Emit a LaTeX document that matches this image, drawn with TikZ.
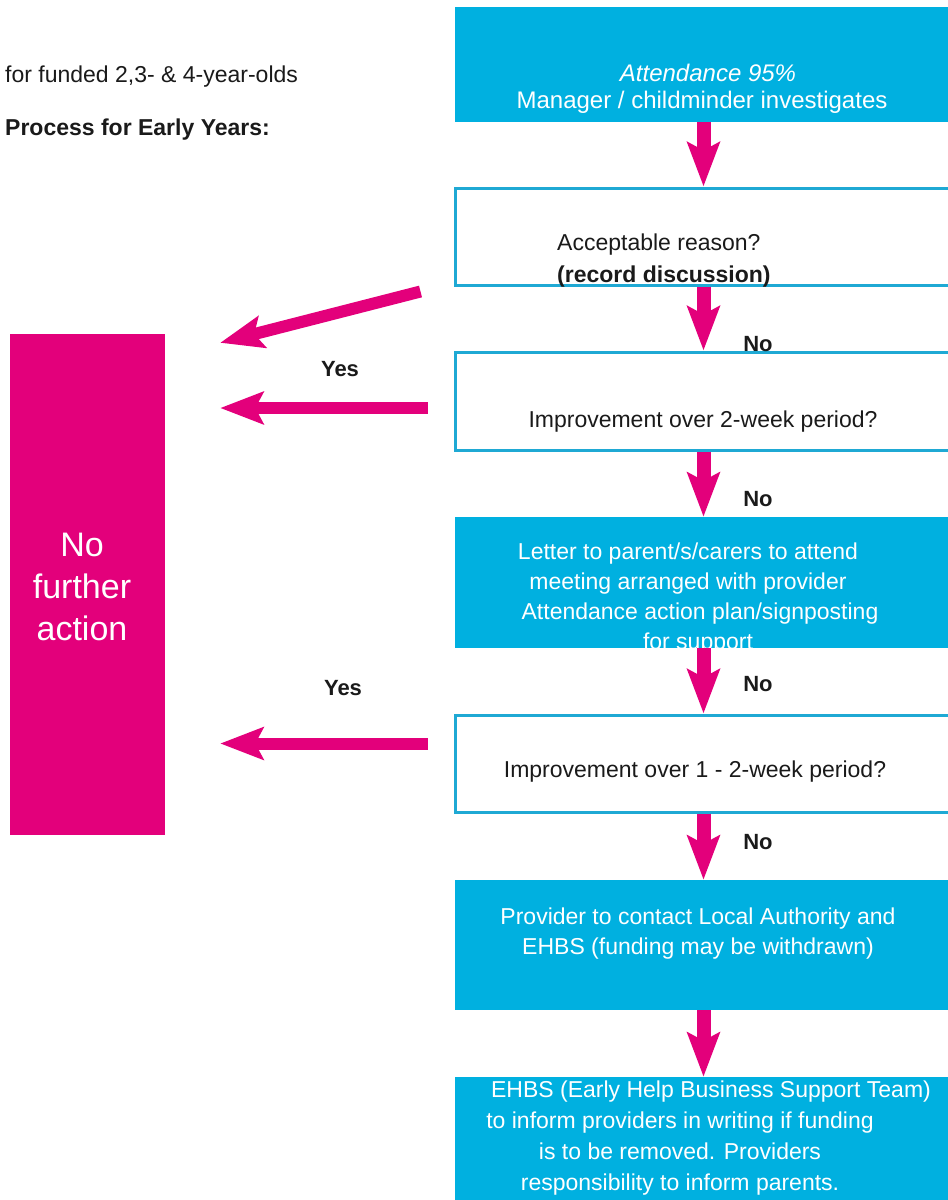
\documentclass[tikz,border=0pt]{standalone}
\usepackage{fontspec}
\setmainfont{Liberation Sans}
\usetikzlibrary{arrows.meta,calc}
\definecolor{eyblue}{HTML}{00B0E0}
\definecolor{eyedge}{HTML}{1FA9D4}
\definecolor{eypink}{HTML}{E3007B}
\definecolor{eyink}{HTML}{1A1A1A}

\begin{document}
\begin{tikzpicture}[x=1pt, y=-1pt,
  every node/.style={inner sep=0pt, font=\fontsize{23}{30}\selectfont},
  fillbox/.style={rectangle, fill=eyblue, minimum width=497pt},
  linebox/.style={rectangle, draw=eyedge, line width=3pt, fill=white, minimum width=497pt},
  nfabox/.style={rectangle, fill=eypink, minimum width=155pt, minimum height=501pt},
  lighttext/.style={text=white, align=center},
  darktext/.style={text=eyink, align=center},
  answer/.style={text=eyink, font=\fontsize{22}{26}\selectfont\bfseries},
  flow/.style={draw=eypink, line width=14pt, -{Stealth[length=44pt, width=32pt, inset=8pt]}},
  yesflow/.style={draw=eypink, line width=12pt, -{Stealth[length=43pt, width=32pt, inset=8pt]}}]

  \useasboundingbox[fill=white] (0,0) rectangle (948,1200);

  % heading
  \node[text=eyink, anchor=west] (funded) at (5, 77) {for funded 2,3- \& 4-year-olds};
  \node[text=eyink, anchor=west, font=\fontsize{23}{30}\selectfont\bfseries] (process) at (5, 130) {Process for Early Years:};

  % boxes
  \node[fillbox, minimum height=115pt] (start) at (703.5, 64.5) {};
  \node[linebox, minimum height=97pt] (reason) at (703.5, 236.5) {};
  \node[linebox, minimum height=98pt] (twoweek) at (703.5, 401) {};
  \node[fillbox, minimum height=131pt] (letter) at (703.5, 582.5) {};
  \node[linebox, minimum height=97pt] (oneweek) at (703.5, 763.5) {};
  \node[fillbox, minimum height=130pt] (contact) at (703.5, 945) {};
  \node[fillbox, minimum height=126pt] (inform) at (703.5, 1140) {};
  \node[nfabox] (nfa) at (87.5, 584.5) {};

  % texts
  \node[lighttext, font=\fontsize{34}{42}\selectfont] (nfatxt) at (82, 587) {No\\further\\action};
  \node[lighttext, font=\fontsize{24}{27}\selectfont] (starttxt) at (702, 88.5) {\hspace*{12pt}\textit{Attendance 95\%}\\Manager / childminder investigates};
  \node[darktext, align=left, anchor=west, font=\fontsize{23}{32}\selectfont] (reasontxt) at (557, 261) {Acceptable reason?\\\textbf{(record discussion)}};
  \node[darktext] (twoweektxt) at (703, 422) {Improvement over 2-week period?};
  \node[lighttext] (lettertxt) at (688, 599) {Letter to parent/s/carers to attend\\meeting arranged with provider\\\hspace*{24pt}Attendance action plan/signposting\\\hspace*{20pt}for support};
  \node[darktext] (oneweektxt) at (695, 772) {Improvement over 1 - 2-week period?};
  \node[lighttext] (contacttxt) at (698, 934) {Provider to contact Local Authority and\\EHBS (funding may be withdrawn)};
  \node[lighttext, font=\fontsize{23}{31}\selectfont] (informtxt) at (680, 1138) {\hspace*{62pt}EHBS (Early Help Business Support Team)\\to inform providers in writing if funding\\is to be removed. Providers\\responsibility to inform parents.};

  % down the chain
  \draw[flow] (start) -- (reason);
  \draw[flow] (reason) -- (twoweek);
  \draw[flow] (twoweek) -- (letter);
  \draw[flow] (letter) -- (oneweek);
  \draw[flow] (oneweek) -- (contact);
  \draw[flow] (contact) -- (inform);

  % back to no further action
  \draw[yesflow] ($(reason.south west)+(-33,5)$) -- ($(nfa.north east)+(55,9)$);
  \draw[yesflow] ($(twoweek.west)+(-26,7)$) -- ($(nfa.east |- twoweek.west)+(55,7)$);
  \draw[yesflow] ($(oneweek.west)+(-26,-20)$) -- ($(nfa.east |- oneweek.west)+(55,-20)$);

  % answers
  \node[answer] (no1) at (758, 344) {No};
  \node[answer] (no2) at (758, 499) {No};
  \node[answer] (no3) at (758, 684) {No};
  \node[answer] (no4) at (758, 842) {No};
  \node[answer] (yes1) at (340, 369) {Yes};
  \node[answer] (yes2) at (343, 688) {Yes};

\end{tikzpicture}
\end{document}
